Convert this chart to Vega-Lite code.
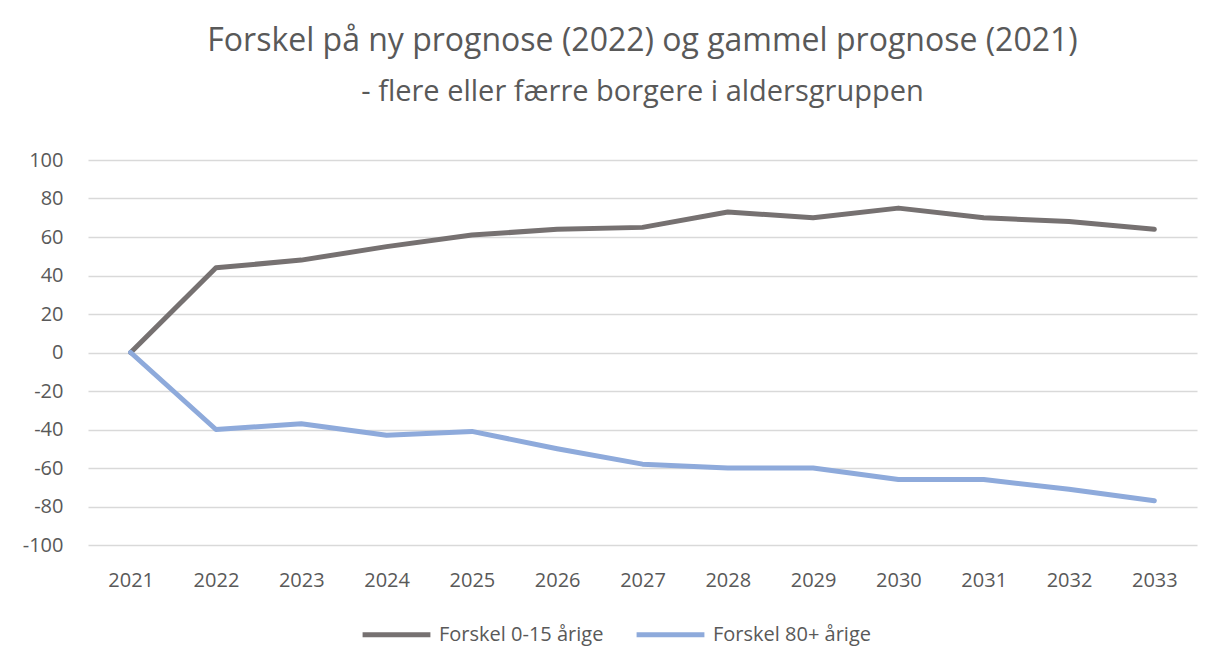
{
  "$schema": "https://vega.github.io/schema/vega-lite/v6.json",
  "width": 1109,
  "height": 385,
  "autosize": "none",
  "padding": {"left": 88, "top": 160, "right": 22, "bottom": 113},
  "background": "white",
  "title": {
    "text": "Forskel på ny prognose (2022) og gammel prognose (2021)",
    "subtitle": "- flere eller færre borgere i aldersgruppen",
    "anchor": "middle",
    "font": "Open Sans",
    "fontSize": 32,
    "fontWeight": "normal",
    "color": "#595959",
    "subtitleFont": "Open Sans",
    "subtitleFontSize": 29,
    "subtitleColor": "#595959",
    "subtitlePadding": 20,
    "offset": 42
  },
  "data": {
    "values": [
      {"year": "2021", "series": "Forskel 0-15 årige", "value": 0},
      {"year": "2022", "series": "Forskel 0-15 årige", "value": 44},
      {"year": "2023", "series": "Forskel 0-15 årige", "value": 48},
      {"year": "2024", "series": "Forskel 0-15 årige", "value": 55},
      {"year": "2025", "series": "Forskel 0-15 årige", "value": 61},
      {"year": "2026", "series": "Forskel 0-15 årige", "value": 64},
      {"year": "2027", "series": "Forskel 0-15 årige", "value": 65},
      {"year": "2028", "series": "Forskel 0-15 årige", "value": 73},
      {"year": "2029", "series": "Forskel 0-15 årige", "value": 70},
      {"year": "2030", "series": "Forskel 0-15 årige", "value": 75},
      {"year": "2031", "series": "Forskel 0-15 årige", "value": 70},
      {"year": "2032", "series": "Forskel 0-15 årige", "value": 68},
      {"year": "2033", "series": "Forskel 0-15 årige", "value": 64},
      {"year": "2021", "series": "Forskel 80+ årige", "value": 0},
      {"year": "2022", "series": "Forskel 80+ årige", "value": -40},
      {"year": "2023", "series": "Forskel 80+ årige", "value": -37},
      {"year": "2024", "series": "Forskel 80+ årige", "value": -43},
      {"year": "2025", "series": "Forskel 80+ årige", "value": -41},
      {"year": "2026", "series": "Forskel 80+ årige", "value": -50},
      {"year": "2027", "series": "Forskel 80+ årige", "value": -58},
      {"year": "2028", "series": "Forskel 80+ årige", "value": -60},
      {"year": "2029", "series": "Forskel 80+ årige", "value": -60},
      {"year": "2030", "series": "Forskel 80+ årige", "value": -66},
      {"year": "2031", "series": "Forskel 80+ årige", "value": -66},
      {"year": "2032", "series": "Forskel 80+ årige", "value": -71},
      {"year": "2033", "series": "Forskel 80+ årige", "value": -77}
    ]
  },
  "mark": {"type": "line", "strokeWidth": 5, "strokeCap": "round", "strokeJoin": "round"},
  "encoding": {
    "x": {
      "field": "year",
      "type": "ordinal",
      "scale": {"type": "point", "padding": 0.5},
      "axis": {
        "title": null,
        "labelAngle": 0,
        "labelFont": "Open Sans",
        "labelFontSize": 20,
        "labelColor": "#595959",
        "labelPadding": 25,
        "ticks": false,
        "domain": false,
        "grid": false
      }
    },
    "y": {
      "field": "value",
      "type": "quantitative",
      "scale": {"domain": [-100, 100], "nice": false},
      "axis": {
        "title": null,
        "values": [-100, -80, -60, -40, -20, 0, 20, 40, 60, 80, 100],
        "labelExpr": "'' + datum.value",
        "labelFont": "Open Sans",
        "labelFontSize": 20,
        "labelColor": "#595959",
        "labelPadding": 25,
        "ticks": false,
        "domain": false,
        "grid": true,
        "gridColor": "#d9d9d9",
        "gridWidth": 1.3
      }
    },
    "color": {
      "field": "series",
      "type": "nominal",
      "scale": {"domain": ["Forskel 0-15 årige", "Forskel 80+ årige"], "range": ["#767171", "#8eaadb"]},
      "legend": {
        "title": null,
        "orient": "none",
        "legendX": 272,
        "legendY": 438,
        "direction": "horizontal",
        "labelFont": "Open Sans",
        "labelFontSize": 20,
        "labelColor": "#595959",
        "labelLimit": 400,
        "symbolType": "stroke",
        "symbolSize": 4600,
        "symbolStrokeWidth": 5,
        "columnPadding": 22,
        "labelOffset": 6
      }
    }
  },
  "config": {
    "view": {"stroke": null}
  }
}
